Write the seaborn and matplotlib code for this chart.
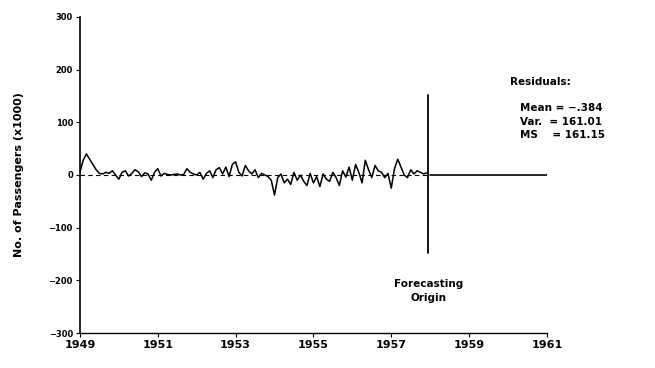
import numpy as np
import pandas as pd
import matplotlib
matplotlib.use("Agg")
import matplotlib.pyplot as plt
import seaborn as sns

# Monthly residuals 1949-1957 (x1000 passengers)
res_1949 = [5, 28, 40, 30, 20, 10, 3, 2, 5, 3, 8, 0]
res_1950 = [-8, 5, 8, -2, 3, 10, 6, -3, 4, 2, -10, 5]
res_1951 = [12, -2, 3, 1, 0, 1, 2, 0, 1, 12, 5, 2]
res_1952 = [0, 5, -8, 3, 8, -5, 10, 14, 2, 15, -3, 20]
res_1953 = [25, 5, -2, 18, 8, 2, 10, -5, 3, 0, -3, -10]
res_1954 = [-38, -5, 2, -15, -8, -18, 5, -10, 0, -12, -20, 3]
res_1955 = [-15, -3, -22, 2, -8, -12, 5, -5, -20, 8, -4, 15]
res_1956 = [-10, 20, 5, -15, 28, 10, -5, 18, 8, 5, -5, 3]
res_1957 = [-25, 12, 30, 15, 0, -5, 10, 2, 8, 5, 2, 4]

residuals = (res_1949 + res_1950 + res_1951 + res_1952 + res_1953 +
             res_1954 + res_1955 + res_1956 + res_1957)
start_year = 1949
origin_year = 1958
end_year = 1961
year_ticks = [1949, 1951, 1953, 1955, 1957, 1959, 1961]
y_ticks = [-300, -200, -100, 0, 100, 200, 300]
stats_title = "Residuals:"
stats_lines = ["Mean = \u2212.384", "Var.  = 161.01", "MS    = 161.15"]

sns.set_style("ticks")
plt.rcParams['font.family'] = ['DejaVu Sans']
plt.rcParams['font.weight'] = 'bold'
for k in ['text.color', 'axes.labelcolor', 'xtick.color', 'ytick.color', 'axes.edgecolor']:
    plt.rcParams[k] = 'black'

t = start_year + np.arange(len(residuals)) / 12.0
df = pd.DataFrame({"t": t, "res": residuals})

fig = plt.figure(figsize=(6.55, 3.68), dpi=100)
ax = fig.add_axes([0.122, 0.095, 0.713, 0.859])

sns.lineplot(data=df, x="t", y="res", ax=ax, color="black", lw=1.1)
# zero reference (dashed) over fitted period, solid forecast after origin
ax.plot([start_year, origin_year], [0, 0], color="black", lw=0.8, ls=(0, (4, 3)))
ax.plot([origin_year, end_year], [0, 0], color="black", lw=1.2)
ax.plot([origin_year - 0.05, origin_year - 0.05], [-148, 152], color="black", lw=1.3)

ax.set_xlim(start_year, end_year)
ax.set_ylim(-300, 300)
ax.set_xticks(year_ticks)
ax.set_xticklabels([str(y) for y in year_ticks], fontsize=8, fontweight='bold')
ax.set_yticks(y_ticks)
ax.set_yticklabels([str(v).replace('-', '\u2212') for v in y_ticks], fontsize=6, fontweight='bold')
ax.tick_params(axis='both', length=3, width=0.8, pad=2)
ax.set_xlabel("")
ax.set_ylabel("No. of Passengers (x1000)", fontsize=8, fontweight='bold', labelpad=18)
sns.despine(ax=ax)
ax.spines['left'].set_linewidth(1.2)
ax.spines['bottom'].set_linewidth(1.0)

ax.text(1960.05, 176, stats_title, fontsize=7.5, fontweight='bold', va='center', ha='left')
for i, line in enumerate(stats_lines):
    ax.text(1960.31, 128 - i * 26.5, line, fontsize=7.5, fontweight='bold', va='center', ha='left')
ax.text(1957.95, -220, "Forecasting\nOrigin", fontsize=7.5, fontweight='bold',
        ha='center', va='center', linespacing=1.5)

fig.savefig("out.png", dpi=100)
